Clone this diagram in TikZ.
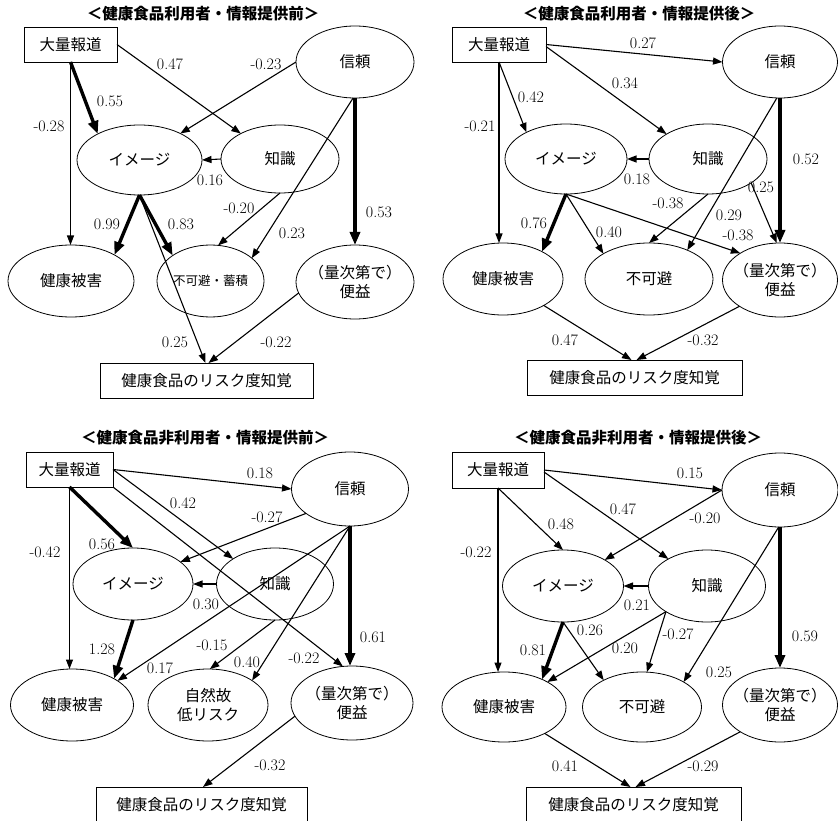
\documentclass[tikz,border=0pt]{standalone}
\usepackage{fontspec}
\usepackage{tikz}
\usetikzlibrary{shapes.geometric, arrows.meta, calc}
\newfontfamily\jp{Noto Sans CJK JP}

\begin{document}
\begin{tikzpicture}[
        x=1pt, y=-1pt,
        >={Triangle[length=9.5pt, width=7pt]},
        % Boxes for observed variables
        obs/.style={
            draw, line width=0.8pt,
            inner sep=0pt, outer sep=0pt,
            minimum height=35pt,
            font=\jp\fontsize{15.5}{18}\selectfont
        },
        % Ellipses for the latent factors
        factor/.style={
            draw, ellipse, line width=0.8pt,
            inner sep=0pt, outer sep=0pt,
            minimum width=118pt, minimum height=72pt,
            align=center,
            font=\jp\fontsize{15.5}{19}\selectfont
        },
        heading/.style={inner sep=0pt, font=\jp\bfseries\fontsize{15.5}{18}\selectfont},
        coef/.style={inner sep=0pt, font=\fontsize{16}{18}\selectfont},
        effect/.style={->, line width=1.1pt},
        bigeffect/.style={-{Triangle[length=13pt, width=10pt]}, line width=3.4pt}
    ]
    \useasboundingbox (0,0) rectangle (838,821);

    % 1. Users, before information
    \node[heading] (a-title) at (203,14) {＜健康食品利用者・情報提供前＞};
    \node[obs, minimum width=93pt] (a-mass) at (70.5,44.5) {大量報道};
    \node[factor] (a-trust) at (355,62) {信頼};
    \node[factor, minimum width=125pt, minimum height=70pt] (a-image) at (139.5,160) {イメージ};
    \node[factor, minimum height=68pt] (a-know) at (280,159) {知識};
    \node[factor, minimum width=126pt] (a-harm) at (71,281) {健康被害};
    \node[factor, minimum width=107pt, font=\jp\fontsize{12.5}{15}\selectfont] (a-inev) at (210.5,281) {不可避・蓄積};
    \node[factor, minimum height=74pt, inner xsep=-9pt] (a-benefit) at (355,282) {（量次第で）\\便益};
    \node[obs, minimum width=213pt] (a-risk) at (206.5,380.5) {健康食品のリスク度知覚};

    \draw[bigeffect] (a-mass.south) -- (a-image.148);
    \draw[effect] (a-mass.south) -- (a-mass.south |- a-harm.north);
    \draw[effect] (a-mass.east) -- (a-know.147);
    \draw[effect] (a-trust.west) -- (a-image.33);
    \draw[effect] (a-know.west) -- (a-image.east);
    \draw[effect] (a-trust.267) -- (a-inev.29);
    \draw[bigeffect] (a-trust.south) -- (a-benefit.north);
    \draw[effect] (a-know.south) -- (a-inev.78);
    \draw[bigeffect] (a-image.south) -- (a-harm.31);
    \draw[bigeffect] (a-image.south) -- (a-inev.146);
    \draw[effect] (a-image.south) -- ([xshift=-1pt]a-risk.north);
    \draw[effect] (a-benefit.191) -- ([xshift=2pt]a-risk.north);

    \foreach \x/\y/\v [count=\i] in {170/64/0.47, 266/64/-0.23, 110/101/0.55, 49/126/-0.28,
            210/180/0.16, 239/208/-0.20, 379/212/0.53, 107/224/0.99, 181/224/0.83,
            292/233/0.23, 175/342/0.25, 276/342/-0.22}
        \node[coef] (a-w\i) at (\x,\y) {\v};

    % 2. Users, after information
    \node[heading] (b-title) at (639,14) {＜健康食品利用者・情報提供後＞};
    \node[obs, minimum width=94pt] (b-mass) at (499,44.5) {大量報道};
    \node[factor, minimum width=115pt] (b-trust) at (780,62) {信頼};
    \node[factor, minimum width=122pt, minimum height=70pt] (b-image) at (566,159) {イメージ};
    \node[factor, minimum height=70pt] (b-know) at (708,159) {知識};
    \node[factor, minimum width=120pt] (b-harm) at (503,279) {健康被害};
    \node[factor, minimum width=128pt] (b-inev) at (649,279) {不可避};
    \node[factor, minimum width=115pt, minimum height=74pt, inner xsep=-9pt] (b-benefit) at (780,280) {（量次第で）\\便益};
    \node[obs, minimum width=215pt] (b-risk) at (634.5,377.5) {健康食品のリスク度知覚};

    \draw[effect] (b-mass.east) -- (b-trust.west);
    \draw[effect] ([yshift=-2pt]b-mass.east) -- (b-know.149);
    \draw[effect] (b-mass.south) -- (b-image.146);
    \draw[effect] (b-mass.south) -- (b-mass.south |- b-harm.north);
    \draw[effect] (b-know.west) -- (b-image.east);
    \draw[bigeffect] (b-trust.south) -- (b-benefit.north);
    \draw[effect] (b-trust.265) -- (b-inev.37);
    \draw[effect] (b-know.south) -- (b-inev.north);
    \draw[effect] (b-know.331) -- (b-benefit.95);
    \draw[bigeffect] (b-image.south) -- (b-harm.35);
    \draw[effect] (b-image.south) -- (b-inev.151);
    \draw[effect] (b-image.south) -- (b-benefit.146);
    \draw[effect] (b-harm.327) -- ([xshift=-3pt]b-risk.north);
    \draw[effect] (b-benefit.213) -- ([xshift=2pt]b-risk.north);

    \foreach \x/\y/\v [count=\i] in {643/43/0.27, 625/83/0.34, 531/97/0.42, 480/126/-0.21,
            806/159/0.52, 637/179/0.18, 761/187/0.25, 668/203/-0.38, 729/215/0.29,
            534/223/0.76, 609/232/0.40, 738/235/-0.38, 565/340/0.47, 703/340/-0.32}
        \node[coef] (b-w\i) at (\x,\y) {\v};

    % 3. Non-users, before information
    \node[heading] (c-title) at (205,438) {＜健康食品非利用者・情報提供前＞};
    \node[obs, minimum width=87pt] (c-mass) at (69.5,469.5) {大量報道};
    \node[factor, minimum width=117pt, minimum height=74pt] (c-trust) at (350,489) {信頼};
    \node[factor, minimum width=120pt] (c-image) at (133,584) {イメージ};
    \node[factor, minimum width=117pt] (c-know) at (275,584) {知識};
    \node[factor, minimum width=123pt] (c-harm) at (72,705) {健康被害};
    \node[factor, minimum width=120pt] (c-nat) at (208,705) {自然故\\低リスク};
    \node[factor, minimum width=122pt, minimum height=74pt, inner xsep=-9pt] (c-benefit) at (352,703) {（量次第で）\\便益};
    \node[obs, minimum width=211pt] (c-risk) at (201.5,804.5) {健康食品のリスク度知覚};

    \draw[effect] (c-mass.east) -- (c-trust.west);
    \draw[effect] (c-mass.east) -- (c-know.149);
    \draw[effect] (c-mass.south east) -- (c-benefit.104);
    \draw[bigeffect] (c-mass.south) -- (c-image.north);
    \draw[effect] (c-mass.south) -- (c-mass.south |- c-harm.north);
    \draw[effect] (c-trust.209) -- (c-image.25);
    \draw[effect] (c-know.west) -- (c-image.east);
    \draw[bigeffect] (c-trust.south) -- (c-trust.south |- c-benefit.north);
    \draw[effect] (c-trust.south) -- (c-harm.28);
    \draw[effect] (c-trust.south) -- (c-nat.29);
    \draw[effect] (c-know.south) -- (c-nat.87);
    \draw[bigeffect] (c-image.south) -- (c-harm.32);
    \draw[effect] (c-benefit.193) -- ([xshift=1.5pt]c-risk.north);

    \foreach \x/\y/\v [count=\i] in {260/473/0.18, 183/503/0.42, 267/517/-0.27, 102/544/0.56,
            45/552/-0.42, 206/604/0.30, 373/637/0.61, 212/645/-0.15, 102/649/1.28,
            247/662/0.40, 304/658/-0.22, 160/668/0.17, 270/765/-0.32}
        \node[coef] (c-w\i) at (\x,\y) {\v};

    % 4. Non-users, after information
    \node[heading] (d-title) at (638,438) {＜健康食品非利用者・情報提供後＞};
    \node[obs, minimum width=92pt, minimum height=36pt] (d-mass) at (498,470) {大量報道};
    \node[factor, minimum width=116pt, minimum height=74pt] (d-trust) at (780,490) {信頼};
    \node[factor, minimum width=121pt] (d-image) at (563,586) {イメージ};
    \node[factor, minimum width=117pt] (d-know) at (707,586) {知識};
    \node[factor, minimum width=124pt, minimum height=70pt] (d-harm) at (504,707) {健康被害};
    \node[factor, minimum width=119pt, minimum height=70pt] (d-inev) at (642,707) {不可避};
    \node[factor, minimum width=115pt, minimum height=74pt, inner xsep=-9pt] (d-benefit) at (780,705) {（量次第で）\\便益};
    \node[obs, minimum width=215pt] (d-risk) at (633.5,804.5) {健康食品のリスク度知覚};

    \draw[effect] (d-mass.east) -- (d-trust.west);
    \draw[effect] ([yshift=-2pt]d-mass.east) -- (d-know.145);
    \draw[effect] (d-mass.south) -- (d-image.north);
    \draw[effect] (d-mass.south) -- (d-mass.south |- d-harm.north);
    \draw[effect] (d-trust.west) -- (d-image.32);
    \draw[effect] (d-know.west) -- (d-image.east);
    \draw[bigeffect] (d-trust.south) -- (d-benefit.north);
    \draw[effect] (d-trust.268) -- (d-inev.31);
    \draw[effect] (d-know.212) -- (d-harm.30);
    \draw[effect] (d-know.212) -- (d-inev.82);
    \draw[bigeffect] (d-image.south) -- (d-harm.36);
    \draw[effect] (d-image.south) -- (d-inev.145);
    \draw[effect] (d-harm.327) -- ([xshift=-3pt]d-risk.north);
    \draw[effect] (d-benefit.214) -- ([xshift=2pt]d-risk.north);

    \foreach \x/\y/\v [count=\i] in {690/473/0.15, 623/509/0.47, 705/518/-0.20, 561/524/0.48,
            476/552/-0.22, 637/605/0.21, 590/630/0.26, 678/634/-0.27, 805/636/0.59,
            625/648/0.20, 533/650/0.81, 719/672/0.25, 565/766/0.41, 703/766/-0.29}
        \node[coef] (d-w\i) at (\x,\y) {\v};

\end{tikzpicture}
\end{document}
